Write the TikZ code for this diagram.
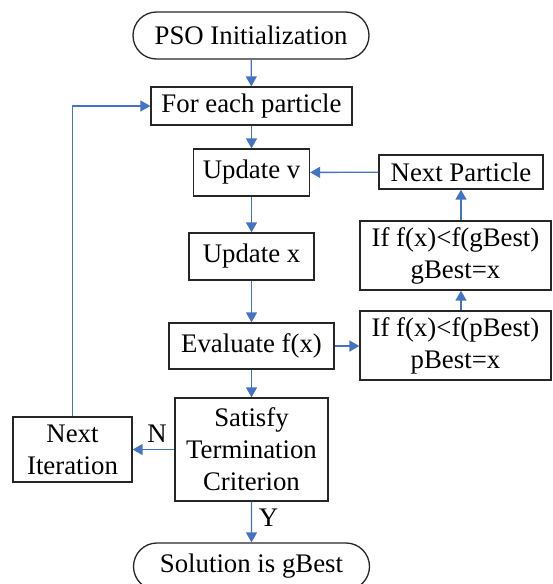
\documentclass[tikz,border=0pt]{standalone}
\usepackage{fontspec}
\setmainfont{Liberation Serif}
\usetikzlibrary{shapes.misc,arrows.meta}
\definecolor{flowblue}{RGB}{68,114,196}
\begin{document}
\begin{tikzpicture}[x=0.5pt,y=-0.5pt,
  font=\fontsize{13.4}{16}\selectfont,
  box/.style={draw=black!85,line width=0.65pt,inner sep=0pt,align=center},
  term/.style={box,rounded rectangle,minimum width=118pt,minimum height=23.5pt},
  flow/.style={draw=flowblue,line width=0.7pt,-{Triangle[length=5pt,width=5.5pt]}}]
\useasboundingbox (0,0) rectangle (552,584);
\node [term] (init) at (251,35.5) {PSO Initialization};
\node [box,minimum width=100.5pt,minimum height=19pt] (each) at (251.5,106) {For each particle};
\node [box,minimum width=58pt,minimum height=23.5pt] (updv) at (251.5,172.5) {Update v};
\node [box,minimum width=62.5pt,minimum height=23.5pt] (updx) at (251.5,256.5) {Update x};
\node [box,minimum width=82.5pt,minimum height=23pt] (eval) at (251.5,346) {Evaluate f(x)};
\node [box,minimum width=76.5pt,minimum height=51.5pt] (crit) at (251.5,449.5) {Satisfy\\Termination\\Criterion};
\node [box,minimum width=59.5pt,minimum height=32.5pt] (nextit) at (72.5,449.5) {Next\\Iteration};
\node [term] (sol) at (251.5,566.5) {Solution is gBest};
\node [box,minimum width=82pt,minimum height=17pt] (nextp) at (461,172) {Next Particle};
\node [box,minimum width=95.5pt,minimum height=34.5pt] (gbest) at (455.5,255.5) {If f(x)<f(gBest)\\gBest=x};
\node [box,minimum width=95.5pt,minimum height=34.5pt] (pbest) at (455.5,345.5) {If f(x)<f(pBest)\\pBest=x};
\draw [flow] (init) -- (each);
\draw [flow] (each) -- (updv);
\draw [flow] (updv) -- (updx);
\draw [flow] (updx) -- (eval);
\draw [flow] (eval) -- (crit);
\draw [flow] (crit) -- node [above,xshift=1.75pt] {N} (nextit);
\draw [flow] (crit) -- node [right,pos=0.4] {Y} (sol);
\draw [flow] (nextit.north) |- (each.west);
\draw [flow] (eval) -- (pbest.west |- eval);
\draw [flow] (pbest.north -| nextp) -- (gbest.south -| nextp);
\draw [flow] (gbest.north -| nextp) -- (nextp);
\draw [flow] (nextp) -- (updv);
\end{tikzpicture}
\end{document}
